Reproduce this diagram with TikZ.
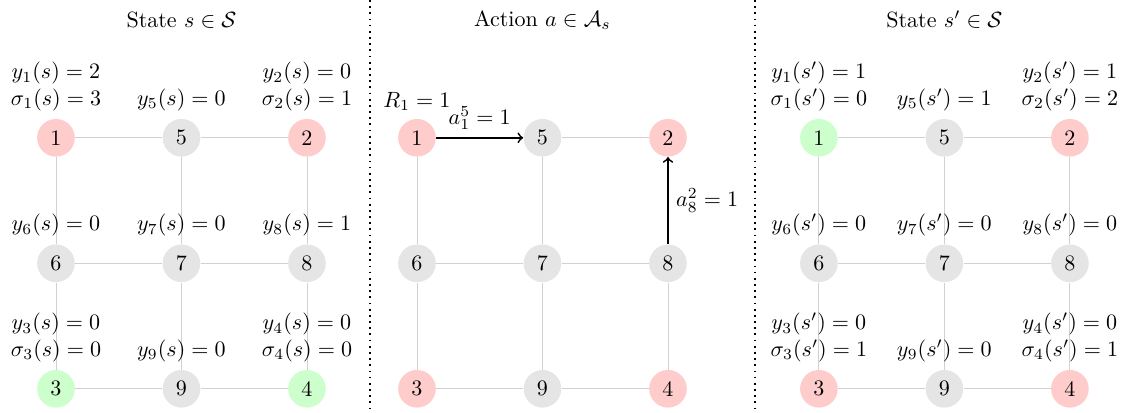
\documentclass[tikz,border=0pt]{standalone}
\usetikzlibrary{positioning,backgrounds}

\begin{document}
\begin{tikzpicture}[
  cell/.style={circle, fill=gray!20, minimum size=0.6cm, inner sep=0pt},
  hit/.style={cell, fill=red!20},
  done/.style={cell, fill=green!20},
  link/.style={draw=black!18, thin},
  act/.style={->, thick},
  val/.style={align=center},
  sep/.style={thick, dotted},
  node distance=2cm and 2cm, on grid,
]
\useasboundingbox (0,0) rectangle (17.944,6.566);

% state s
\node[hit, label={[val]above:$y_1(s)=2$\\$\sigma_1(s)=3$}] (S1) at (0.892,4.37) {1};
\node[cell, right=of S1, label={[val]above:$y_5(s)=0$}] (S5) {5};
\node[hit, right=of S5, label={[val]above:$y_2(s)=0$\\$\sigma_2(s)=1$}] (S2) {2};
\node[cell, below=of S1, label={[val]above:$y_6(s)=0$}] (S6) {6};
\node[cell, right=of S6, label={[val]above:$y_7(s)=0$}] (S7) {7};
\node[cell, right=of S7, label={[val]above:$y_8(s)=1$}] (S8) {8};
\node[done, below=of S6, label={[val]above:$y_3(s)=0$\\$\sigma_3(s)=0$}] (S3) {3};
\node[cell, right=of S3, label={[val]above:$y_9(s)=0$}] (S9) {9};
\node[done, right=of S9, label={[val]above:$y_4(s)=0$\\$\sigma_4(s)=0$}] (S4) {4};
\node[above=1.877cm of S5] (Stitle) {State $s\in\mathcal{S}$};

% action a
\node[hit, label={[val]above:$R_1=1$}] (A1) at (6.645,4.37) {1};
\node[cell, right=of A1] (A5) {5};
\node[hit, right=of A5] (A2) {2};
\node[cell, below=of A1] (A6) {6};
\node[cell, right=of A6] (A7) {7};
\node[cell, right=of A7] (A8) {8};
\node[hit, below=of A6] (A3) {3};
\node[cell, right=of A3] (A9) {9};
\node[hit, right=of A9] (A4) {4};
\node[above=1.877cm of A5] (Atitle) {Action $a\in\mathcal{A}_s$};

% state s'
\node[done, label={[val]above:$y_1(s')=1$\\$\sigma_1(s')=0$}] (T1) at (13.05,4.37) {1};
\node[cell, right=of T1, label={[val]above:$y_5(s')=1$}] (T5) {5};
\node[hit, right=of T5, label={[val]above:$y_2(s')=1$\\$\sigma_2(s')=2$}] (T2) {2};
\node[cell, below=of T1, label={[val]above:$y_6(s')=0$}] (T6) {6};
\node[cell, right=of T6, label={[val]above:$y_7(s')=0$}] (T7) {7};
\node[cell, right=of T7, label={[val]above:$y_8(s')=0$}] (T8) {8};
\node[hit, below=of T6, label={[val]above:$y_3(s')=0$\\$\sigma_3(s')=1$}] (T3) {3};
\node[cell, right=of T3, label={[val]above:$y_9(s')=0$}] (T9) {9};
\node[hit, right=of T9, label={[val]above:$y_4(s')=0$\\$\sigma_4(s')=1$}] (T4) {4};
\node[above=1.877cm of T5] (Ttitle) {State $s'\in\mathcal{S}$};

% grid edges, behind the labels
\begin{scope}[on background layer]
\foreach \p in {S,T}
  \foreach \u/\v in {1/5,5/2,6/7,7/8,3/9,9/4,1/6,6/3,5/7,7/9,2/8,8/4}
    \draw[link] (\p\u) -- (\p\v);
\foreach \u/\v in {5/2,6/7,7/8,3/9,9/4,1/6,6/3,5/7,7/9,8/4}
  \draw[link] (A\u) -- (A\v);
\end{scope}

% chosen moves
\draw[act] (A1) -- node[above]{$a_1^5=1$} (A5);
\draw[act] (A8) -- node[right]{$a_8^2=1$} (A2);

% panel separators
\coordinate (sepA) at (5.896,6.566);
\coordinate (sepB) at (12.03,6.566);
\draw[sep] (sepA) -- (sepA |- 0,0);
\draw[sep] (sepB) -- (sepB |- 0,0);
\end{tikzpicture}
\end{document}
